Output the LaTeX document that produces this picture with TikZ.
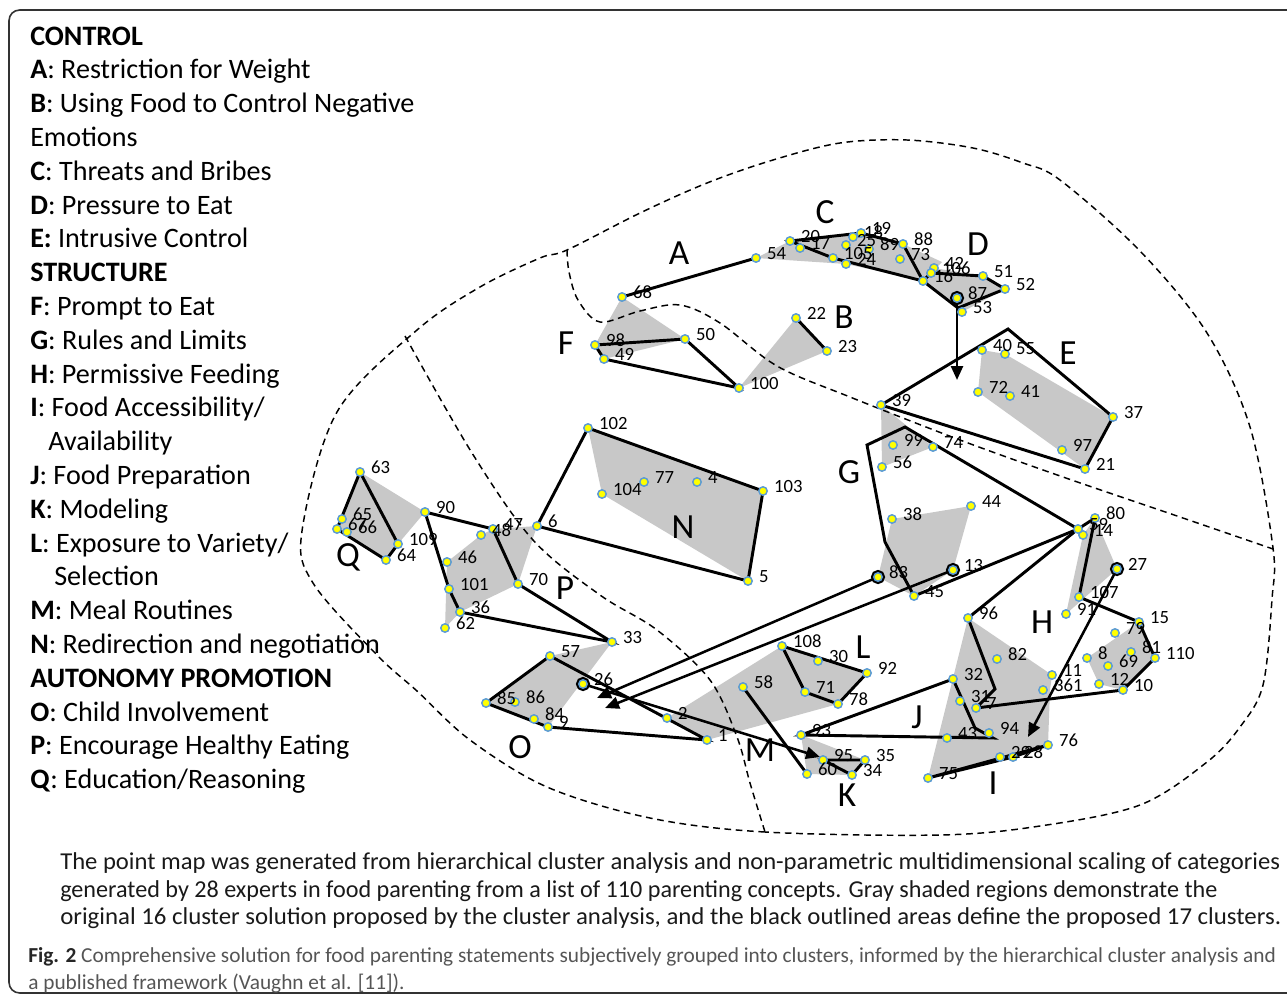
\documentclass[tikz,border=0pt]{standalone}
\usepackage{fontspec}
\setmainfont{Carlito}
\usetikzlibrary{arrows.meta}
\definecolor{clgray}{RGB}{200,200,200}
\definecolor{mkblue}{RGB}{91,155,213}
\definecolor{mkyel}{RGB}{255,255,0}
\definecolor{capgray}{RGB}{85,85,85}
\tikzset{
 outline/.style={line width=2.2pt, line join=miter, black},
 graybox/.style={fill=clgray, draw=none},
 divline/.style={dash pattern=on 5pt off 3.5pt, line width=1.1pt},
 pt/.style={circle, inner sep=0pt, minimum size=6.3pt, fill=mkyel, draw=mkblue, line width=1.1pt},
 ring/.style={circle, inner sep=0pt, minimum size=8.3pt, draw=black, line width=2.3pt},
 lbl/.style={inner sep=0pt, font=\fontsize{14}{16}\selectfont, anchor=west, xshift=8.2pt, yshift=3.7pt},
 clus/.style={inner sep=0pt, font=\fontsize{26.5}{30}\selectfont},
 arr/.style={line width=1.9pt, -{Triangle[length=10.5pt,width=9pt]}},
 leg/.style={anchor=base west, inner sep=0pt, font=\fontsize{21.1}{25}\selectfont},
 captxt/.style={anchor=base west, inner sep=0pt, font=\fontsize{18.2}{21}\selectfont, text=black!90},
 figtxt/.style={anchor=base west, inner sep=0pt, font=\fontsize{16}{19}\selectfont, text=capgray},
}
\begin{document}
\begin{tikzpicture}[x=0.75pt,y=-0.75pt]
\useasboundingbox (0,0) rectangle (1287,1003);
% frame
\draw[line width=1.2pt, black!80, rounded corners=8pt] (1300,10) -- (9,10) -- (9,993) -- (1300,993);

% points
\coordinate (p1) at (707,740);
\coordinate (p2) at (667,718);
\coordinate (p3) at (1043,690);
\coordinate (p4) at (697,482);
\coordinate (p5) at (748,581);
\coordinate (p6) at (537,526);
\coordinate (p7) at (976,708);
\coordinate (p8) at (1087,658);
\coordinate (p9) at (548,727);
\coordinate (p10) at (1123,690);
\coordinate (p11) at (1052,675);
\coordinate (p12) at (1099,684);
\coordinate (p13) at (953,570);
\coordinate (p14) at (1083,535);
\coordinate (p15) at (1139,622);
\coordinate (p16) at (923,281);
\coordinate (p17) at (800,248);
\coordinate (p18) at (853,237);
\coordinate (p19) at (861,233);
\coordinate (p20) at (790,241);
\coordinate (p21) at (1085,469);
\coordinate (p22) at (796,318);
\coordinate (p23) at (827,351);
\coordinate (p24) at (846,264);
\coordinate (p25) at (846,245);
\coordinate (p26) at (583,684);
\coordinate (p27) at (1117,569);
\coordinate (p28) at (1013,757);
\coordinate (p29) at (1000,757);
\coordinate (p30) at (818,661);
\coordinate (p31) at (960,701);
\coordinate (p32) at (953,679);
\coordinate (p33) at (612,642);
\coordinate (p34) at (852,775);
\coordinate (p35) at (865,760);
\coordinate (p36) at (460,612);
\coordinate (p37) at (1113,417);
\coordinate (p38) at (892,519);
\coordinate (p39) at (881,405);
\coordinate (p40) at (982,350);
\coordinate (p41) at (1010,396);
\coordinate (p42) at (934,268);
\coordinate (p43) at (947,738);
\coordinate (p44) at (971,506);
\coordinate (p45) at (914,596);
\coordinate (p46) at (447,562);
\coordinate (p47) at (493,529);
\coordinate (p48) at (481,535);
\coordinate (p49) at (604,359);
\coordinate (p50) at (685,339);
\coordinate (p51) at (983,276);
\coordinate (p52) at (1005,289);
\coordinate (p53) at (962,312);
\coordinate (p54) at (756,258);
\coordinate (p55) at (1005,354);
\coordinate (p56) at (882,467);
\coordinate (p57) at (550,656);
\coordinate (p58) at (743,687);
\coordinate (p59) at (1078,529);
\coordinate (p60) at (807,774);
\coordinate (p62) at (445,628);
\coordinate (p63) at (360,472);
\coordinate (p64) at (386,560);
\coordinate (p65) at (342,519);
\coordinate (p66) at (347,532);
\coordinate (p67) at (337,529);
\coordinate (p68) at (622,297);
\coordinate (p69) at (1108,666);
\coordinate (p70) at (518,584);
\coordinate (p71) at (805,692);
\coordinate (p72) at (978,392);
\coordinate (p73) at (900,259);
\coordinate (p74) at (933,447);
\coordinate (p75) at (928,778);
\coordinate (p76) at (1048,745);
\coordinate (p77) at (644,482);
\coordinate (p78) at (838,704);
\coordinate (p79) at (1115,633);
\coordinate (p80) at (1095,518);
\coordinate (p81) at (1131,652);
\coordinate (p82) at (997,659);
\coordinate (p83) at (878,577);
\coordinate (p84) at (534,719);
\coordinate (p85) at (486,703);
\coordinate (p86) at (515,702);
\coordinate (p87) at (957,298);
\coordinate (p88) at (903,244);
\coordinate (p89) at (869,249);
\coordinate (p90) at (425,512);
\coordinate (p91) at (1066,614);
\coordinate (p92) at (867,673);
\coordinate (p93) at (801,735);
\coordinate (p94) at (989,733);
\coordinate (p95) at (823,760);
\coordinate (p96) at (968,618);
\coordinate (p97) at (1062,450);
\coordinate (p98) at (595,345);
\coordinate (p99) at (893,445);
\coordinate (p100) at (739,388);
\coordinate (p101) at (449,589);
\coordinate (p102) at (588,428);
\coordinate (p103) at (763,491);
\coordinate (p104) at (602,494);
\coordinate (p105) at (833,258);
\coordinate (p106) at (931,273);
\coordinate (p107) at (1079,597);
\coordinate (p108) at (782,646);
\coordinate (p109) at (398,544);
\coordinate (p110) at (1155,658);
% extra vertices
\coordinate (c1) at (942,262);
\coordinate (d5) at (958,308);
\coordinate (e1) at (1008,329);
\coordinate (g1) at (867,445);
\coordinate (g2) at (905,427);
\coordinate (g4) at (885,542);
\coordinate (h1) at (995,689);
\coordinate (j1) at (975,728);
\coordinate (j2) at (993,738);
\coordinate (i3) at (1050,690);
\coordinate (a87) at (957,380);
\coordinate (a83) at (597,698);
\coordinate (a13) at (605,708);
\coordinate (a26) at (820,757);
\coordinate (a27) at (1028,737);

% gray regions
\fill[graybox] (p54) -- (p20) -- (p19) -- (p88) -- (c1) -- (p16) -- (p24) -- cycle;
\fill[graybox] (p16) -- (p42) -- (p51) -- (p52) -- (p53) -- cycle;
\fill[graybox] (p68) -- (p50) -- (p49) -- (p98) -- cycle;
\fill[graybox] (p22) -- (p23) -- (p100) -- cycle;
\fill[graybox] (p40) -- (p55) -- (p37) -- (p21) -- (p72) -- cycle;
\fill[graybox] (p39) -- (p74) -- (p56) -- cycle;
\fill[graybox] (p38) -- (p44) -- (p13) -- (p45) -- (p83) -- cycle;
\fill[graybox] (p80) -- (p27) -- (p91) -- (p14) -- cycle;
\fill[graybox] (p8) -- (p15) -- (p110) -- (p10) -- (p12) -- cycle;
\fill[graybox] (p96) -- (p11) -- (i3) -- (p76) -- (p75) -- cycle;
\fill[graybox] (p93) -- (p35) -- (p34) -- (p60) -- cycle;
\fill[graybox] (p2) -- (p108) -- (p92) -- (p78) -- (p1) -- cycle;
\fill[graybox] (p102) -- (p103) -- (p5) -- (p104) -- cycle;
\fill[graybox] (p33) -- (p57) -- (p85) -- (p9) -- cycle;
\fill[graybox] (p47) -- (p6) -- (p70) -- (p36) -- (p62) -- (p46) -- (p48) -- cycle;
\fill[graybox] (p63) -- (p90) -- (p109) -- (p64) -- (p67) -- (p65) -- cycle;

% dashed boundaries
\draw[divline] plot[smooth cycle, tension=0.55] coordinates {(940,835) (765,832) (650,818) (547,787) (470,740) (417,691) (377,655) (313,583) (302,531) (337,412) (417,330) (480,287) (540,258) (567,250) (640,213) (707,183) (773,160) (840,143) (907,140) (973,148) (1023,163) (1060,180) (1140,251) (1207,333) (1250,427) (1273,548) (1272,599) (1263,685) (1240,727) (1207,762) (1140,805) (1040,826)};
\draw[divline] plot[smooth, tension=0.55] coordinates {(567,250) (569,272) (578,300) (600,322) (640,311) (680,305) (720,323) (777,366) (850,397) (960,440) (1063,477) (1180,517) (1273,549)};
\draw[divline] plot[smooth, tension=0.55] coordinates {(405,336) (472,453) (533,540) (600,595) (657,630) (710,680) (737,737) (750,783) (765,832)};

% black outlines
\draw[outline] (p68) -- (p54);
\draw[outline] (p22) -- (p23);
\draw[outline] (p20) -- (p19) -- (p88) -- (p16) -- (p105) -- cycle;
\draw[outline] (p16) -- (p106) -- (p51) -- (p52) -- (d5) -- cycle;
\draw[outline] (p39) -- (e1) -- (p37) -- (p21) -- cycle;
\draw[outline] (p98) -- (p50) -- (p100) -- (p49) -- cycle;
\draw[outline] (g1) -- (g2) -- (p59) -- (p45) -- (g4) -- cycle;
\draw[outline] (p80) -- (p107) -- (p15) -- (p110) -- (p10) -- (p7) -- (h1) -- (p96) -- (p59) -- cycle;
\draw[outline] (p75) -- (p76) -- (p28) -- cycle;
\draw[outline] (p93) -- (p32) -- (j1) -- (j2) -- cycle;
\draw[outline] (p95) -- (p35) -- (p34) -- cycle;
\draw[outline] (p108) -- (p92) -- (p78) -- (p71) -- cycle;
\draw[outline] (p58) -- (p60);
\draw[outline] (p6) -- (p102) -- (p103) -- (p5) -- cycle;
\draw[outline] (p57) -- (p85) -- (p9) -- (p1) -- cycle;
\draw[outline] (p90) -- (p47) -- (p70) -- (p33) -- (p36) -- (p101) -- cycle;
\draw[outline] (p63) -- (p109) -- (p64) -- (p67) -- cycle;

% arrows
\draw[arr] (p87) -- (a87);
\draw[arr] (p83) -- (a83);
\draw[arr] (p13) -- (a13);
\draw[arr] (p26) -- (a26);
\draw[arr] (p27) -- (a27);

% rings and markers
\foreach \n in {87,83,13,26,27} \node[ring] (r\n) at (p\n) {};
\foreach \n in {1,...,60,62,63,...,110} \node[pt] (m\n) at (p\n) {};

% labels
\foreach \n in {1,2,4,5,...,60,62,63,...,110} \node[lbl] (l\n) at (p\n) {\n};
\node[lbl] (l3) at (p3) {361};

% cluster letters
\node[clus] (cA) at (679,253) {A};
\node[clus] (cB) at (844,317) {B};
\node[clus] (cC) at (825,212) {C};
\node[clus] (cD) at (978,244) {D};
\node[clus] (cE) at (1068,353) {E};
\node[clus] (cF) at (566,343) {F};
\node[clus] (cG) at (849,472) {G};
\node[clus] (cH) at (1042,622) {H};
\node[clus] (cI) at (993,783) {I};
\node[clus] (cJ) at (917,717) {J};
\node[clus] (cK) at (847,795) {K};
\node[clus] (cL) at (863,647) {L};
\node[clus] (cM) at (760,750) {M};
\node[clus] (cN) at (683,527) {N};
\node[clus] (cO) at (520,747) {O};
\node[clus] (cP) at (565,588) {P};
\node[clus] (cQ) at (348,557) {Q};

% legend
\node[leg] (leg1) at (30,45) {\textbf{CONTROL}};
\node[leg] (leg2) at (30,78.8) {\textbf{A}: Restriction for Weight};
\node[leg] (leg3) at (30,112.6) {\textbf{B}: Using Food to Control Negative};
\node[leg] (leg4) at (30,146.4) {Emotions};
\node[leg] (leg5) at (30,180.2) {\textbf{C}: Threats and Bribes};
\node[leg] (leg6) at (30,214) {\textbf{D}: Pressure to Eat};
\node[leg] (leg7) at (30,247.8) {\textbf{E:} Intrusive Control};
\node[leg] (leg8) at (30,281.6) {\textbf{STRUCTURE}};
\node[leg] (leg9) at (30,315.4) {\textbf{F}: Prompt to Eat};
\node[leg] (leg10) at (30,349.2) {\textbf{G}: Rules and Limits};
\node[leg] (leg11) at (30,383) {\textbf{H}: Permissive Feeding};
\node[leg] (leg12) at (30,416.8) {\textbf{I}: Food Accessibility/};
\node[leg] (leg13) at (48,450.6) {Availability};
\node[leg] (leg14) at (30,484.4) {\textbf{J}: Food Preparation};
\node[leg] (leg15) at (30,518.2) {\textbf{K}: Modeling};
\node[leg] (leg16) at (30,552) {\textbf{L}: Exposure to Variety/};
\node[leg] (leg17) at (54,585.8) {Selection};
\node[leg] (leg18) at (30,619.6) {\textbf{M}: Meal Routines};
\node[leg] (leg19) at (30,653.4) {\textbf{N}: Redirection and negotiation};
\node[leg] (leg20) at (30,687.2) {\textbf{AUTONOMY PROMOTION}};
\node[leg] (leg21) at (30,721) {\textbf{O}: Child Involvement};
\node[leg] (leg22) at (30,754.8) {\textbf{P}: Encourage Healthy Eating};
\node[leg] (leg23) at (30,788.6) {\textbf{Q}: Education/Reasoning};

% captions
\node[captxt] (cap1) at (60,869) {\scalebox{1.015}[1]{The point map was generated from hierarchical cluster analysis and non-parametric multidimensional scaling of categories}};
\node[captxt] (cap2) at (60,897) {\scalebox{0.995}[1]{generated by 28 experts in food parenting from a list of 110 parenting concepts. Gray shaded regions demonstrate the}};
\node[captxt] (cap3) at (60,924) {\scalebox{1.023}[1]{original 16 cluster solution proposed by the cluster analysis, and the black outlined areas define the proposed 17 clusters.}};
\node[figtxt] (fig1) at (28,962) {\textbf{\color{black!85}Fig. 2} Comprehensive solution for food parenting statements subjectively grouped into clusters, informed by the hierarchical cluster analysis and};
\node[figtxt] (fig2) at (28,989) {a published framework (Vaughn et al. [11]).};
\end{tikzpicture}
\end{document}
